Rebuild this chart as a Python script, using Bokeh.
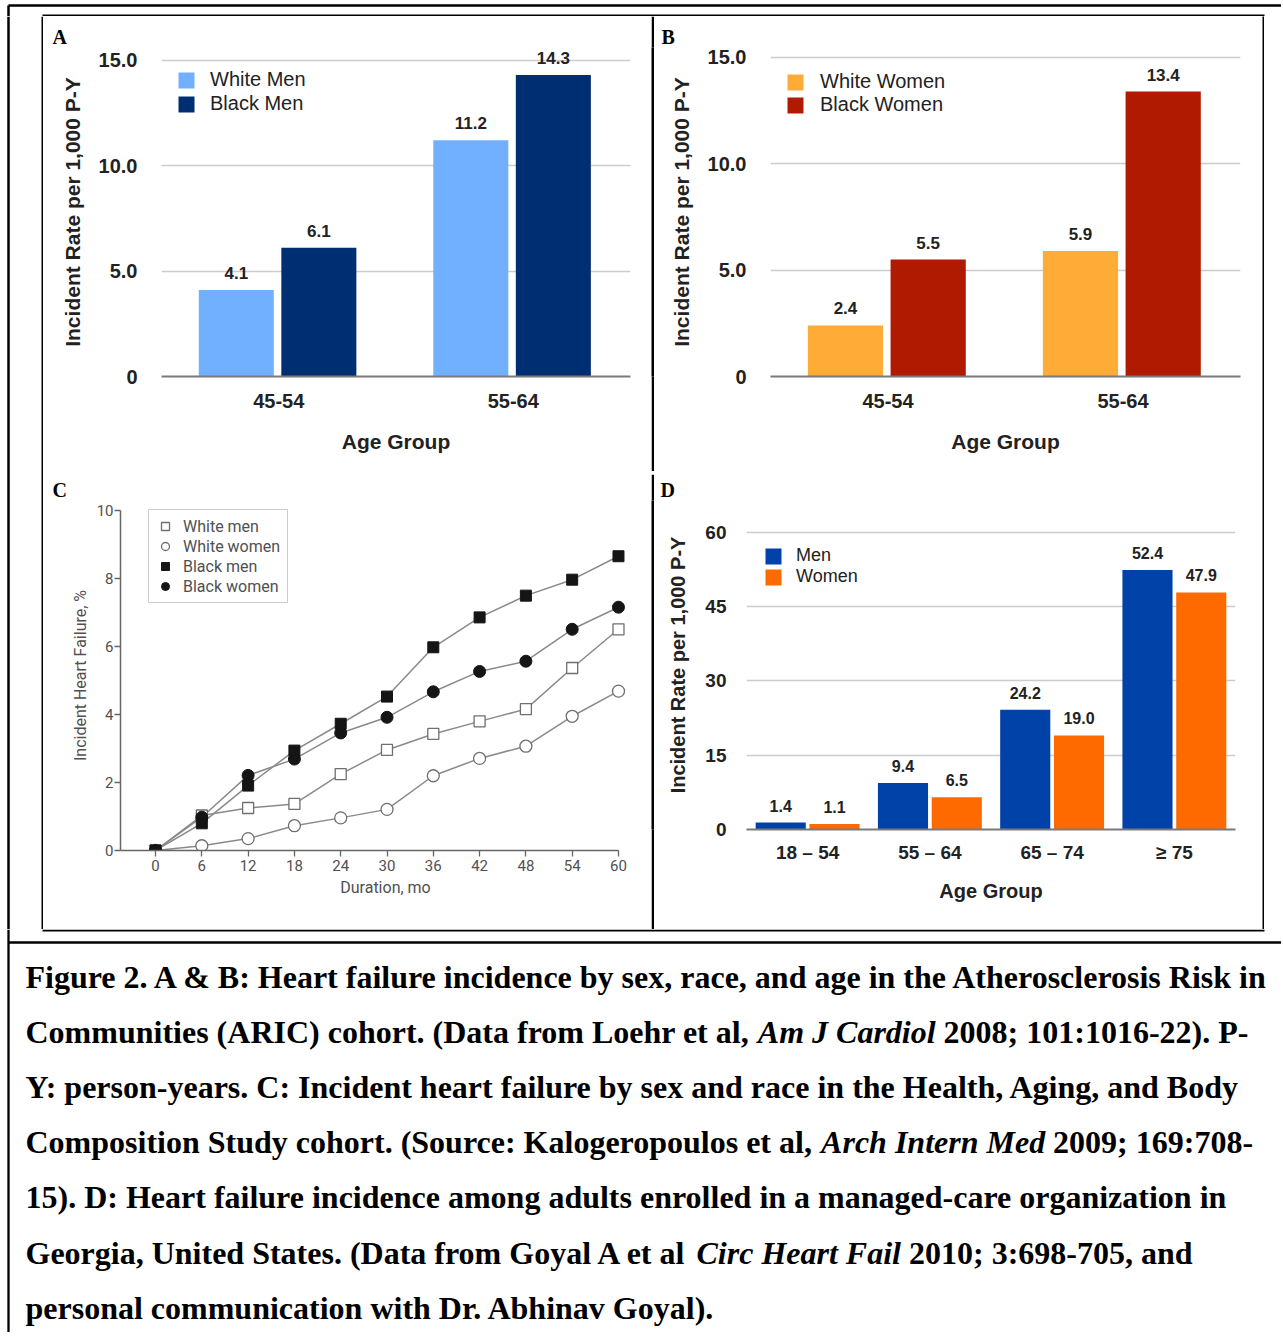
from bokeh.plotting import figure
from bokeh.models import (ColumnDataSource, FactorRange, Range1d, FixedTicker, Legend,
                          LegendItem)
from bokeh.transform import dodge
from bokeh.layouts import row, column
from bokeh.embed import file_html
from bokeh.resources import INLINE
from bokeh.core.properties import value

# ---------------- data ----------------
AGE_AB = ["45-54", "55-64"]
A_WHITE_MEN = [4.1, 11.2]
A_BLACK_MEN = [6.1, 14.3]
B_WHITE_WOMEN = [2.4, 5.9]
B_BLACK_WOMEN = [5.5, 13.4]
AB_TICKS = [0, 5, 10, 15]
AB_TICK_LABELS = ["0", "5.0", "10.0", "15.0"]

MONTHS = [0, 6, 12, 18, 24, 30, 36, 42, 48, 54, 60]
C_WHITE_MEN = [0, 1.03, 1.25, 1.37, 2.25, 2.96, 3.43, 3.80, 4.16, 5.37, 6.51]
C_WHITE_WOMEN = [0, 0.14, 0.35, 0.73, 0.96, 1.21, 2.20, 2.71, 3.07, 3.95, 4.69]
C_BLACK_MEN = [0, 0.80, 1.91, 2.94, 3.73, 4.53, 5.98, 6.86, 7.50, 7.97, 8.66]
C_BLACK_WOMEN = [0, 0.98, 2.21, 2.69, 3.46, 3.92, 4.67, 5.27, 5.57, 6.51, 7.16]
C_Y_TICKS = [0, 2, 4, 6, 8, 10]

AGE_D = ["18 \u2013 54", "55 \u2013 64", "65 \u2013 74", "\u2265 75"]
D_MEN = [1.4, 9.4, 24.2, 52.4]
D_WOMEN = [1.1, 6.5, 19.0, 47.9]
D_TICKS = [0, 15, 30, 45, 60]

CAPTION_TEXT = [
    "Figure 2. A & B: Heart failure incidence by sex, race, and age in the Atherosclerosis Risk in",
    "Communities (ARIC) cohort. (Data from Loehr et al,", "Am J Cardiol", "2008; 101:1016-22). P-",
    "Y: person-years. C: Incident heart failure by sex and race in the Health, Aging, and Body",
    "Composition Study cohort. (Source: Kalogeropoulos et al,", "Arch Intern Med", "2009; 169:708-",
    "15). D: Heart failure incidence among adults enrolled in a managed-care organization in",
    "Georgia, United States. (Data from Goyal A et al", "Circ Heart Fail", "2010; 3:698-705, and",
    "personal communication with Dr. Abhinav Goyal).",
]
CAPTION_LINE = [0, 1, 1, 1, 2, 3, 3, 3, 4, 5, 5, 5, 6]
CAPTION_STYLE = ["bold", "bold", "bold italic", "bold", "bold", "bold", "bold italic", "bold",
                 "bold", "bold", "bold italic", "bold", "bold"]
CAPTION_X = [25, 25, 757.3, 943.1, 25, 25, 820.6, 1052.6, 25, 25, 696, 908.5, 25]

# ---------------- styling ----------------
SANS = "Liberation Sans"
COND = "Roboto"
SERIF = "Liberation Serif"
TXT = "#222222"
CTXT = "#505050"
FULL_W = 1281


def no_align(p):
    try:
        p.frame_align = False
    except Exception:
        pass


def set_letter(p, letter, offset, standoff):
    p.title.text = letter
    p.title.align = "left"
    p.title.offset = offset
    p.title.standoff = standoff
    p.title.text_font = SERIF
    p.title.text_font_style = "bold"
    p.title.text_font_size = "20px"
    p.title.text_color = "black"


def bar_panel(letter, cats, v1, v2, names, colors, ticks, tick_labels, ymax, w, h,
              mb, offs, bw, legend_loc, legend_spacing, legend_standoff, fs_leg, fs_val,
              fs_tick, fs_lab, ystand, ylabstand, xstand, xlabstand, letter_off,
              letter_standoff):
    p = figure(width=w, height=h, x_range=FactorRange(factors=cats), y_range=Range1d(0, ymax),
               output_backend="svg", toolbar_location=None,
               min_border_left=mb[0], min_border_right=mb[1], min_border_top=mb[2],
               min_border_bottom=mb[3])
    no_align(p)
    p.outline_line_color = None
    p.background_fill_color = "white"
    p.border_fill_color = "white"
    src = ColumnDataSource(dict(cat=cats, v1=v1, v2=v2,
                                t1=[f"{v:.1f}" for v in v1], t2=[f"{v:.1f}" for v in v2]))
    r1 = p.vbar(x=dodge("cat", offs[0], range=p.x_range), top="v1", width=bw, source=src,
                fill_color=colors[0], line_color=None)
    r2 = p.vbar(x=dodge("cat", offs[1], range=p.x_range), top="v2", width=bw, source=src,
                fill_color=colors[1], line_color=None)
    for fld, tf, o in (("v1", "t1", offs[0]), ("v2", "t2", offs[1])):
        p.text(x=dodge("cat", o, range=p.x_range), y=fld, text=tf, source=src,
               text_align="center", text_baseline="middle", y_offset=-17,
               text_font=value(SANS), text_font_style="bold", text_font_size=fs_val,
               text_color=TXT)

    yax = p.yaxis[0]
    yax.ticker = FixedTicker(ticks=ticks)
    yax.major_label_overrides = {t: l for t, l in zip(ticks, tick_labels)}
    yax.axis_line_color = None
    yax.major_tick_line_color = None
    yax.minor_tick_line_color = None
    yax.major_tick_out = 0
    yax.major_tick_in = 0
    yax.major_label_standoff = ystand
    yax.major_label_text_font = SANS
    yax.major_label_text_font_style = "bold"
    yax.major_label_text_font_size = fs_tick
    yax.major_label_text_color = TXT
    yax.axis_label = "Incident Rate per 1,000 P-Y"
    yax.axis_label_text_font = SANS
    yax.axis_label_text_font_style = "bold"
    yax.axis_label_text_font_size = fs_lab
    yax.axis_label_text_color = TXT
    yax.axis_label_standoff = ylabstand

    xax = p.xaxis[0]
    xax.axis_line_color = "#7a7a7a"
    xax.axis_line_width = 2
    xax.major_tick_line_color = None
    xax.minor_tick_line_color = None
    xax.major_tick_out = 0
    xax.major_tick_in = 0
    xax.major_label_standoff = xstand
    xax.major_label_text_font = SANS
    xax.major_label_text_font_style = "bold"
    xax.major_label_text_font_size = fs_tick
    xax.major_label_text_color = TXT
    xax.axis_label = "Age Group"
    xax.axis_label_text_font = SANS
    xax.axis_label_text_font_style = "bold"
    xax.axis_label_text_font_size = fs_lab
    xax.axis_label_text_color = TXT
    xax.axis_label_standoff = xlabstand

    p.xgrid.grid_line_color = None
    p.ygrid.grid_line_color = "#cccccc"
    p.ygrid.grid_line_width = 1.5

    leg = Legend(items=[LegendItem(label=names[0], renderers=[r1]),
                        LegendItem(label=names[1], renderers=[r2])],
                 location=legend_loc, border_line_color=None, background_fill_alpha=0,
                 padding=0, margin=0, glyph_width=20, glyph_height=20, label_height=20,
                 label_standoff=legend_standoff, spacing=legend_spacing,
                 label_text_font=SANS, label_text_font_size=fs_leg, label_text_color=TXT)
    p.add_layout(leg)
    set_letter(p, letter, letter_off, letter_standoff)
    return p


pA = bar_panel("A", AGE_AB, A_WHITE_MEN, A_BLACK_MEN, ["White Men", "Black Men"],
               ["#70b0ff", "#002e73"], AB_TICKS, AB_TICK_LABELS, 15.6, 608, 455,
               (118, 21, 31, 95), (-0.181, 0.171), 0.32, (15, 261), 1, 14,
               "20px", "17px", "20px", "21px", 24, 12, 17, 19, -109, 0)
pB = bar_panel("B", AGE_AB, B_WHITE_WOMEN, B_BLACK_WOMEN, ["White Women", "Black Women"],
               ["#ffab38", "#b01a00"], AB_TICKS, AB_TICK_LABELS, 15.47, 608, 455,
               (116, 22, 31, 95), (-0.181, 0.171), 0.32, (15, 260), 0, 15,
               "20px", "17px", "20px", "21px", 24, 12, 17, 19, -109, 0)
pD = bar_panel("D", AGE_D, D_MEN, D_WOMEN, ["Men", "Women"],
               ["#0042a8", "#ff6a00"], D_TICKS, [str(t) for t in D_TICKS], 66.46, 608, 455,
               (92, 27, 26, 100), (-0.22, 0.22), 0.41, (17, 242), 0, 13,
               "18px", "16px", "19px", "20px", 20, 13, 12, 14, -86, 0)

# ---------------- panel C ----------------
pC = figure(width=608, height=455, x_range=Range1d(-4.54, 64.15), y_range=Range1d(0, 10.3),
            output_backend="svg", toolbar_location=None,
            min_border_left=77, min_border_right=1, min_border_top=26, min_border_bottom=79)
no_align(pC)
pC.outline_line_color = None
pC.grid.grid_line_color = None
LINE_C = "#8a8a8a"
OPEN_EDGE = "#6f6f6f"
DARK = "#151515"
for ser in (C_WHITE_WOMEN, C_WHITE_MEN, C_BLACK_WOMEN, C_BLACK_MEN):
    pC.line(MONTHS, ser, line_color=LINE_C, line_width=1.5)
r_ww = pC.scatter(MONTHS, C_WHITE_WOMEN, marker="circle", size=12, fill_color="white",
                  line_color=OPEN_EDGE, line_width=1.3)
r_wm = pC.scatter(MONTHS, C_WHITE_MEN, marker="square", size=11, fill_color="white",
                  line_color=OPEN_EDGE, line_width=1.3)
r_bw = pC.scatter(MONTHS, C_BLACK_WOMEN, marker="circle", size=12, fill_color=DARK,
                  line_color=DARK)
r_bm = pC.scatter(MONTHS, C_BLACK_MEN, marker="square", size=11, fill_color=DARK,
                  line_color=DARK)

for ax in (pC.xaxis[0], pC.yaxis[0]):
    ax.axis_line_color = "#666666"
    ax.axis_line_width = 1.5
    ax.major_tick_line_color = "#666666"
    ax.major_tick_line_width = 1.3
    ax.minor_tick_line_color = None
    ax.major_tick_out = 6
    ax.major_tick_in = 0
    ax.major_label_text_font = COND
    ax.major_label_text_font_size = "15px"
    ax.major_label_text_color = CTXT
    ax.axis_label_text_font = COND
    ax.axis_label_text_font_style = "normal"
    ax.axis_label_text_font_size = "16px"
    ax.axis_label_text_color = CTXT
pC.xaxis[0].bounds = (-4.54, 60)
pC.xaxis[0].ticker = FixedTicker(ticks=MONTHS)
pC.xaxis[0].major_label_standoff = 3
pC.xaxis[0].axis_label = "Duration, mo"
pC.xaxis[0].axis_label_standoff = 4
pC.yaxis[0].bounds = (0, 10)
pC.yaxis[0].ticker = FixedTicker(ticks=C_Y_TICKS)
pC.yaxis[0].major_label_standoff = 1
pC.yaxis[0].axis_label = "Incident Heart Failure, %"
pC.yaxis[0].axis_label_standoff = 4

legC = Legend(items=[LegendItem(label="White men", renderers=[r_wm]),
                     LegendItem(label="White women", renderers=[r_ww]),
                     LegendItem(label="Black men", renderers=[r_bm]),
                     LegendItem(label="Black women", renderers=[r_bw])],
              location=(28, 247), border_line_color="#999999", border_line_width=1,
              background_fill_color="white", background_fill_alpha=1,
              padding=6, margin=0, glyph_width=20, glyph_height=20, label_height=20,
              label_width=98, label_standoff=8, spacing=0,
              label_text_font=COND, label_text_font_size="16px", label_text_color=CTXT)
pC.add_layout(legC)
set_letter(pC, "C", -68, 0)


# ---------------- frame strips & caption ----------------
def blank(w, h, fill="white"):
    p = figure(width=w, height=h, x_range=Range1d(0, w), y_range=Range1d(h, 0),
               output_backend="svg", toolbar_location=None, min_border=0,
               x_axis_type=None, y_axis_type=None)
    p.grid.grid_line_color = None
    p.outline_line_color = None
    p.background_fill_color = fill
    p.border_fill_color = fill
    return p


top = blank(FULL_W, 16)
top.segment(x0=[8, 8], y0=[5, 5], x1=[FULL_W, 8], y1=[5, 16], line_color="black",
            line_width=2.5)
top.segment(x0=[42], y0=[15], x1=[1264], y1=[15], line_color="black", line_width=2)

left = blank(43, 913)
left.segment(x0=[8], y0=[0], x1=[8], y1=[913], line_color="black", line_width=2.5)
left.segment(x0=[42], y0=[0], x1=[42], y1=[913], line_color="black", line_width=2)
right = blank(2, 913, "black")
v1 = blank(3, 455, "black")
v2 = blank(3, 455, "black")
hdiv = blank(1219, 3, "black")

CAP_H = 403
cap = blank(FULL_W, CAP_H)
cap.segment(x0=[8, 8], y0=[0, 13], x1=[8, FULL_W], y1=[CAP_H, 13], line_color="black",
            line_width=2.3)
cap.segment(x0=[42], y0=[1], x1=[1264], y1=[1], line_color="black", line_width=2)
MID0, LEAD = 47, 55.2
cap_src = ColumnDataSource(dict(
    x=CAPTION_X,
    y=[MID0 + LEAD * i for i in CAPTION_LINE],
    text=CAPTION_TEXT,
    style=CAPTION_STYLE,
))
cap.text(x="x", y="y", text="text", source=cap_src, text_font=value(SERIF),
         text_font_style="style", text_font_size="32px", text_color="black",
         text_align="left", text_baseline="middle")

panels = column(row(pA, v1, pB), hdiv, row(pC, v2, pD))
layout = column(top, row(left, panels, right), cap)

open("out.html", "w").write(file_html(layout, INLINE))
